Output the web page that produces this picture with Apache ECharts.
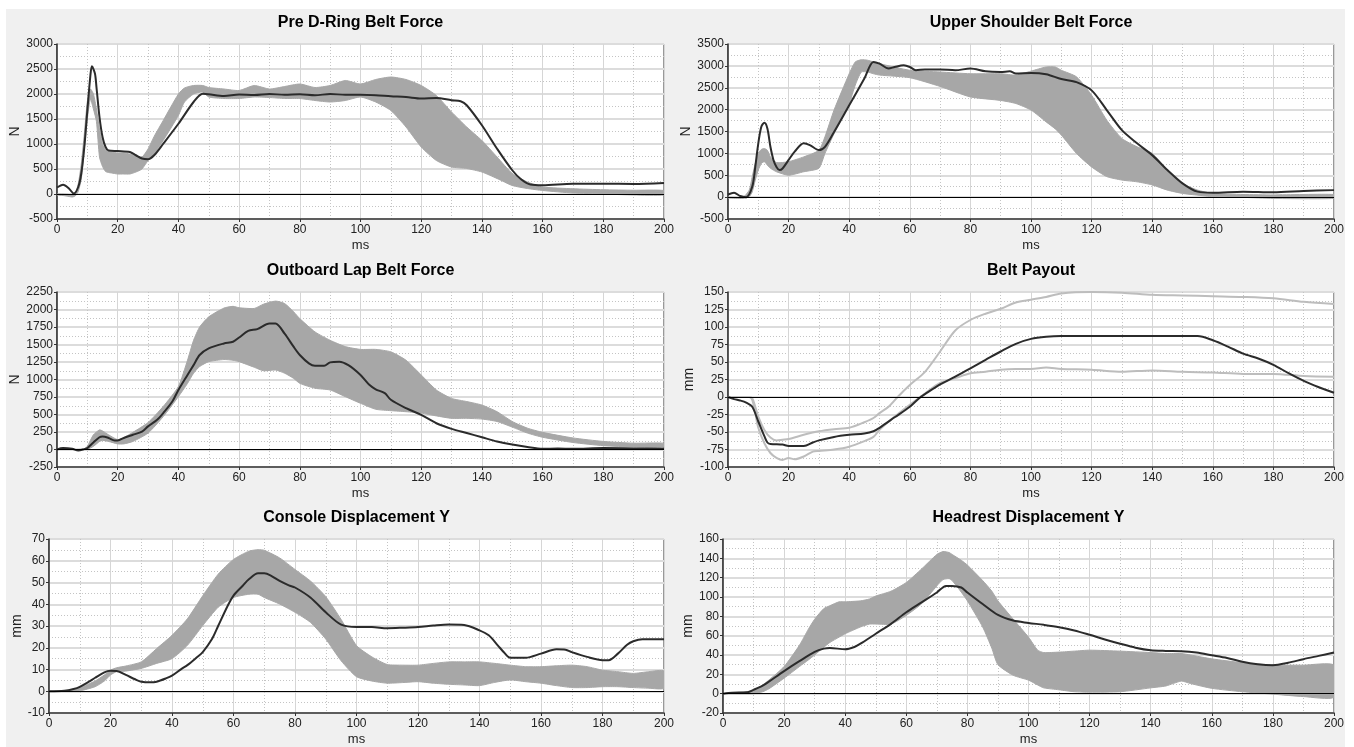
<!DOCTYPE html>
<html>
<head>
<meta charset="utf-8">
<script src="https://cdn.jsdelivr.net/npm/echarts@6/dist/echarts.min.js"></script>
<style>
  html, body { margin: 0; padding: 0; background: #ffffff; }
  #chart { width: 1354px; height: 747px; }
</style>
</head>
<body>
<div id="chart"></div>
<script>
// ---- Pre D-Ring Belt Force (N) ----
const preTime = [0,2,4,5.5,7,8,9,10,11,11.5,12.5,13,14,15,16,17,20,24,26,28,30,32,35,40,45,48,50,55,60,65,70,75,80,85,90,95,100,105,110,115,120,125,130,133,135,140,145,150,153,156,160,170,180,190,200];
const preTest = [130,185,105,10,140,410,940,1670,2370,2555,2410,2140,1540,1140,940,870,860,840,775,710,695,775,1005,1405,1840,2005,1995,1960,1990,1980,2000,1985,1995,1975,2000,1985,1985,1975,1955,1940,1910,1920,1875,1855,1775,1375,905,475,290,190,175,205,205,200,220];
const preCorrTime = [0,2,4,5,6,7,8,9,10,11,12,13,14,15,16,17,18,20,22,24,26,28,30,32,35,40,42,45,48,50,55,60,65,70,75,80,85,90,95,100,105,110,115,120,125,130,135,140,145,150,155,160,170,180,190,200];
const preUpper = [0,0,-10,-20,0,200,600,1200,1850,2100,2000,1700,1300,1000,880,850,840,820,820,800,760,740,900,1150,1470,2000,2120,2170,2170,2130,2100,2070,2170,2100,2150,2200,2130,2170,2270,2200,2290,2340,2290,2170,1970,1640,1340,1070,740,410,240,140,105,85,75,70];
const preLower = [-20,-30,-50,-60,-40,50,300,900,1500,1900,1700,1450,740,550,450,430,420,400,400,400,440,500,670,800,1070,1570,1840,2000,2040,1940,1910,1910,1940,1930,1910,1910,1870,1840,1870,1940,1840,1670,1340,940,670,540,510,440,310,170,110,70,20,0,-20,-20];

// ---- Upper Shoulder Belt Force (N) ----
const shoTime = [0,2,4,6,8,9,10,11,12,13,14,15,16,17,18,20,22,25,27,30,32,35,40,45,48,50,53,55,58,60,62,65,70,75,80,85,90,93,95,100,105,110,115,120,125,130,135,140,145,150,155,160,170,180,190,200];
const shoTest = [60,100,25,0,240,690,1230,1610,1700,1570,1150,850,690,620,655,850,1040,1230,1190,1075,1150,1490,2100,2710,3090,3050,2940,2975,3015,2975,2900,2920,2920,2900,2940,2875,2860,2875,2825,2840,2810,2700,2630,2440,1990,1530,1230,960,620,315,125,100,125,110,140,160];
const shoCorrTime = [0,5,7,8,9,10,11,12,13,14,16,20,25,30,32,35,40,42,44,46,48,50,60,70,80,90,95,100,105,108,110,115,120,125,130,135,140,145,150,155,160,170,180,200];
const shoUpper = [0,0,160,470,770,1000,1090,1110,1070,920,790,810,920,1070,1380,1990,2820,3090,3140,3130,3090,3050,2900,2860,2820,2820,2790,2880,2975,2975,2900,2750,2330,1760,1340,1150,1000,620,310,160,85,60,50,60];
const shoLower = [-20,-30,10,120,390,620,770,810,730,660,580,500,580,660,1000,1450,2140,2560,2860,2860,2820,2790,2730,2530,2290,2210,2140,1990,1720,1560,1420,1000,690,470,390,350,280,160,85,45,10,-5,-30,-30];

// ---- Outboard Lap Belt Force (N) ----
const lapTime = [0,2,5,7,9,10,12,14,15,17,19,20,22,25,28,30,33,35,38,40,43,45,47,50,55,58,60,63,66,70,72,75,78,80,83,85,88,90,93,96,100,103,105,108,110,115,120,125,130,135,140,145,150,155,160,165,170,180,190,200];
const lapTest = [0,20,10,-15,5,20,100,175,185,165,130,130,165,210,255,330,425,520,685,850,1065,1205,1350,1445,1515,1540,1600,1695,1720,1800,1800,1655,1465,1350,1230,1195,1195,1245,1255,1205,1065,920,860,805,710,590,495,375,295,235,175,115,70,35,10,15,10,20,15,10];
const lapCorrTime = [0,9,10,12,14,15,17,20,22,25,30,35,40,43,45,47,50,55,58,60,65,68,72,75,78,80,85,90,95,100,105,110,115,120,125,130,135,140,145,150,155,160,170,180,190,200];
const lapUpper = [0,10,45,210,280,265,210,140,170,245,385,615,900,1275,1560,1750,1895,2020,2045,2025,2015,2075,2120,2085,1965,1870,1680,1560,1470,1430,1430,1395,1275,1065,850,730,685,635,540,400,305,245,165,115,90,90];
const lapLower = [0,0,0,45,115,130,115,80,80,115,235,470,755,945,1090,1185,1255,1285,1275,1255,1175,1125,1135,1090,1015,945,875,850,755,660,575,555,540,520,480,445,445,435,400,320,235,175,100,55,35,35];

// ---- Belt Payout (mm) ----
const payTime = [0,2,4,6,8,10,12,13,14,18,20,25,28,30,35,40,45,48,50,55,60,63,65,70,75,80,85,90,95,100,105,110,155,160,165,170,175,180,185,190,195,200];
const payTest = [0,-3,-5,-8,-14,-35,-56,-65,-67,-68,-70,-70,-65,-62,-57,-54,-52,-49,-44,-29,-14,-2,4,18,29,41,53,65,76,83,86,87,87,81,72,62,55,46,34,23,14,6];
const payUpperTime = [0,7,8,9,10,12,14,16,18,20,25,30,35,40,45,48,50,53,56,60,65,70,75,80,85,90,95,100,105,110,120,130,140,150,160,170,180,190,200];
const payUpper = [0,0,-2,-14,-28,-47,-58,-62,-61,-60,-54,-49,-46,-44,-36,-30,-23,-14,0,17,36,65,95,110,119,126,135,139,143,148,150,149,146,145,144,143,141,136,133];
const payLowerTime = [0,7,8,9,10,12,14,16,18,20,22,25,28,30,35,40,45,48,50,55,60,65,70,75,80,85,90,95,100,105,110,120,130,140,150,160,170,180,190,200];
const payLower = [0,0,-4,-23,-44,-66,-80,-87,-90,-87,-89,-85,-78,-77,-75,-71,-63,-57,-47,-28,-11,5,20,27,34,36,39,40,40,42,40,39,36,38,36,35,33,33,30,29];

// ---- Console Displacement Y (mm) ----
const conTime = [0,5,8,10,13,15,18,20,22,25,28,30,33,35,38,40,43,45,48,50,53,55,58,60,63,65,68,70,72,75,78,80,85,90,95,100,105,110,115,120,125,130,135,140,143,146,148,150,155,160,165,168,170,175,180,182,185,188,190,193,200];
const conTest = [0,0.2,1,2,4.4,6.2,8.7,9.4,9.3,7.5,5.5,4.4,4.1,4.4,5.9,7.2,10.2,12,15.5,18,24,30,39,44,48.5,51.5,54.2,54.2,53.3,50.7,48.7,47.7,43.1,36.3,30.6,29.5,29.5,29,29.2,29.5,30.2,30.7,30.5,28,25.7,21,17.8,15.4,15.4,17.3,19.3,19.1,18,15.8,14.3,14.3,17.3,21.4,23,23.9,23.9];
const conCorrTime = [0,5,10,15,18,20,22,25,30,35,40,45,50,55,60,65,68,70,75,80,85,90,95,100,105,110,115,120,125,130,135,140,145,150,155,160,165,170,175,180,185,190,195,200];
const conUpper = [0,0.2,1.7,4.7,7.5,9.7,10.8,11.6,13.5,19.6,25.7,33.3,43.9,53.8,60.6,64.4,65.1,64.8,61.3,56,50.7,43.5,33,21,15.8,12.3,12,12,12.8,13.5,13.5,13.5,12.8,12,11.3,11.3,11.7,12,11.3,9.7,9,8.2,9,9.3];
const conLower = [0,0,0.2,2.1,4.7,7.5,9,9.3,10.5,12.8,15,21.1,30.2,38.6,43.1,44.6,44.6,43.1,40.1,36.3,31.7,24,14,6.7,4.7,3.7,4,4.4,3.7,3.2,2.9,2.6,4.1,5.2,4.4,3.7,2.6,1.7,1.7,2.1,2.1,1.7,1.4,1.4];

// ---- Headrest Displacement Y (mm) ----
const headTime = [0,3,8,10,13,15,20,25,30,33,35,40,43,45,50,55,60,65,70,73,75,78,80,85,90,95,100,105,110,115,120,125,130,135,140,145,150,155,160,165,170,175,180,185,190,195,200];
const headTest = [0,1,1.5,4,8.3,12.4,23.4,33.6,43.2,46.6,47.3,45.9,48.3,51.7,62,72.2,84.2,94.4,104.7,111.5,111.5,109.8,104.7,92.7,81.4,75.6,73.2,71.2,68.8,65.4,60.9,56.1,51.7,47.6,44.9,44.2,43.9,42.5,39.8,37,33,30.5,29.5,31.9,35.7,39.1,42.5];
const headCorrTime = [0,10,13,15,20,25,28,30,33,35,38,40,45,48,50,55,60,65,70,72,74,75,78,80,85,88,90,95,100,103,105,110,115,120,130,140,145,150,153,160,170,180,190,200];
const headUpper = [0,3,9,14,28,50,67,77,88,91,95,95,96,98,101,106,115,129,144,147,146,144,138,133,117,106,96,77,58.5,45,42.5,43,44,45,44,42.5,41.5,41.5,40,36,32,29.5,29.5,29.5];
const headLower = [0,0,2,5,16,28,35,40,48,53,58.5,62,69,72,72,72,81,93,111.5,118,119,117,105,96,69,47,30,19,14,9,6,4,2,1.5,2,6,8,13,10.5,5.5,2,-0.5,-3,-3.6];

const xTicks = { min: 0, max: 200, interval: 20 };

const LABEL_FONT = "'Liberation Sans', Arial, sans-serif";
const TEXT_FONT = "'Liberation Sans', Arial, sans-serif";

// Panel layout: plot rectangles and axis settings
const panels = [
  { title: 'Pre D-Ring Belt Force', unit: 'N', rect: [57, 44, 607, 175], y: [-500, 3000, 500], nameGap: 30, titleTop: 15 },
  { title: 'Upper Shoulder Belt Force', unit: 'N', rect: [728, 44, 606, 175], y: [-500, 3500, 500], nameGap: 30, titleTop: 15 },
  { title: 'Outboard Lap Belt Force', unit: 'N', rect: [57, 292, 607, 175], y: [-250, 2250, 250], nameGap: 30, titleTop: 263 },
  { title: 'Belt Payout', unit: 'mm', rect: [728, 292, 606, 175], y: [-100, 150, 25], nameGap: 28, titleTop: 263 },
  { title: 'Console Displacement Y', unit: 'mm', rect: [49, 539, 615, 176], y: [-10, 70, 10], nameGap: 21, titleTop: 510 },
  { title: 'Headrest Displacement Y', unit: 'mm', rect: [723, 539, 611, 176], y: [-20, 160, 20], nameGap: 24, titleTop: 510 }
];

const grids = [], xAxes = [], yAxes = [], titles = [], series = [];
const plain = v => String(v);

panels.forEach((p, i) => {
  const [l, t, w, h] = p.rect;
  grids.push({
    left: l, top: t, width: w, height: h,
    show: true, backgroundColor: '#ffffff', borderColor: '#333333', borderWidth: 1
  });
  titles.push({
    text: p.title, left: l + w / 2, top: p.titleTop, textAlign: 'center', padding: 0,
    textStyle: { fontFamily: TEXT_FONT, fontSize: 16, fontWeight: 'bold', color: '#000' }
  });
  xAxes.push({
    type: 'value', gridIndex: i, min: xTicks.min, max: xTicks.max, interval: xTicks.interval,
    name: 'ms', nameLocation: 'middle', nameGap: 20,
    nameTextStyle: { fontFamily: TEXT_FONT, fontSize: 13, color: '#222' },
    axisLine: { show: true, onZero: false, lineStyle: { color: '#333333', width: 1.5 } },
    axisTick: { show: true, length: 3, lineStyle: { color: '#333333' } },
    axisLabel: { margin: 5, fontFamily: LABEL_FONT, fontSize: 12, color: '#222', formatter: plain },
    splitLine: { show: true, lineStyle: { color: '#d6d6d6', width: 1 } },
    minorTick: { show: false, splitNumber: 2 },
    minorSplitLine: { show: true, lineStyle: { color: '#c4c4c4', width: 1, type: [1, 2] } }
  });
  yAxes.push({
    type: 'value', gridIndex: i, min: p.y[0], max: p.y[1], interval: p.y[2],
    name: p.unit, nameLocation: 'middle', nameGap: p.nameGap,
    nameTextStyle: { fontFamily: TEXT_FONT, fontSize: 14, color: '#222' },
    axisLine: { show: true, onZero: false, lineStyle: { color: '#333333', width: 1.5 } },
    axisTick: { show: true, length: 3, lineStyle: { color: '#333333' } },
    axisLabel: { margin: 4, fontFamily: LABEL_FONT, fontSize: 12, color: '#222', formatter: plain },
    splitLine: { show: true, lineStyle: { color: '#dcdcdc', width: 2 } },
    minorTick: { show: false, splitNumber: 2 },
    minorSplitLine: { show: true, lineStyle: { color: '#c4c4c4', width: 1, type: [1, 2] } }
  });
  // zero reference line, kept underneath the corridor
  series.push({
    type: 'line', xAxisIndex: i, yAxisIndex: i, data: [], z: 1, silent: true,
    markLine: {
      silent: true, symbol: 'none', label: { show: false },
      lineStyle: { color: '#000', width: 1, type: 'solid' },
      data: [{ yAxis: 0 }]
    }
  });
});

function pairs(ts, vs) { return ts.map((t, k) => [t, vs[k]]); }

// Corridor drawn as one filled polygon between its lower and upper bounds
function corridor(idx, ts, lo, hi) {
  return {
    type: 'custom', xAxisIndex: idx, yAxisIndex: idx, z: 2, silent: true, clip: true,
    data: ts.map((t, k) => [t, lo[k], hi[k]]),
    encode: { x: 0, y: [1, 2] },
    renderItem: function (params, api) {
      if (params.dataIndex !== 0) return;
      const top = [], bot = [];
      for (let k = 0; k < ts.length; k++) {
        top.push(api.coord([ts[k], hi[k]]));
        bot.push(api.coord([ts[k], lo[k]]));
      }
      return {
        type: 'polygon',
        shape: { points: top.concat(bot.reverse()), smooth: 0.2 },
        style: { fill: '#a7a7a7', stroke: '#a7a7a7', lineWidth: 1 }
      };
    }
  };
}

function testLine(idx, ts, vs) {
  return {
    type: 'line', xAxisIndex: idx, yAxisIndex: idx, z: 4, silent: true,
    data: pairs(ts, vs), showSymbol: false, smooth: 0.3,
    lineStyle: { color: '#2b2b2b', width: 2 }
  };
}

function boundLine(idx, ts, vs) {
  return {
    type: 'line', xAxisIndex: idx, yAxisIndex: idx, z: 3, silent: true,
    data: pairs(ts, vs), showSymbol: false, smooth: 0.3,
    lineStyle: { color: '#bdbdbd', width: 2 }
  };
}

series.push(corridor(0, preCorrTime, preLower, preUpper), testLine(0, preTime, preTest));
series.push(corridor(1, shoCorrTime, shoLower, shoUpper), testLine(1, shoTime, shoTest));
series.push(corridor(2, lapCorrTime, lapLower, lapUpper), testLine(2, lapTime, lapTest));
series.push(boundLine(3, payUpperTime, payUpper), boundLine(3, payLowerTime, payLower), testLine(3, payTime, payTest));
series.push(corridor(4, conCorrTime, conLower, conUpper), testLine(4, conTime, conTest));
series.push(corridor(5, headCorrTime, headLower, headUpper), testLine(5, headTime, headTest));

const chart = echarts.init(document.getElementById('chart'), null, { renderer: 'canvas' });
chart.setOption({
  animation: false,
  backgroundColor: '#ffffff',
  graphic: [{
    type: 'rect', z: -100, silent: true,
    shape: { x: 6, y: 9, width: 1339, height: 738 },
    style: { fill: '#f0f0f0' }
  }],
  title: titles,
  grid: grids,
  xAxis: xAxes,
  yAxis: yAxes,
  series: series
});
</script>
</body>
</html>
